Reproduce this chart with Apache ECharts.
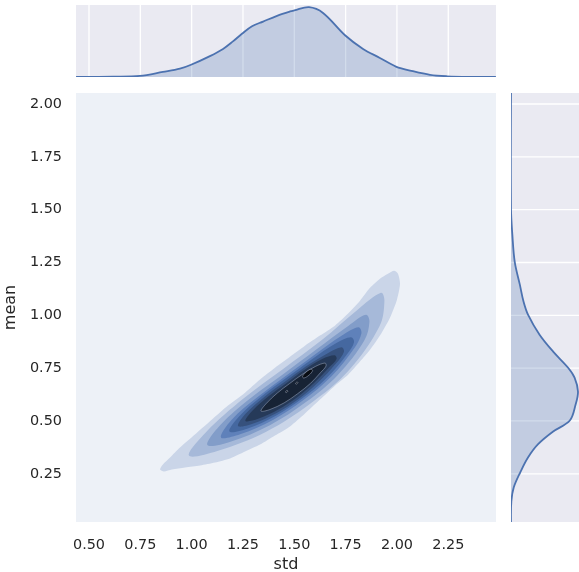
<!DOCTYPE html>
<html><head><meta charset="utf-8">
<script src="https://cdn.jsdelivr.net/npm/echarts@6/dist/echarts.min.js"></script>
<style>html,body{margin:0;padding:0;background:#fff}#c{width:579px;height:572px}</style>
</head><body><div id="c"></div>
<script>
// Tick labels
const stdTicks = [0.5, 0.75, 1.0, 1.25, 1.5, 1.75, 2.0, 2.25];
const meanTicks = [0.25, 0.5, 0.75, 1.0, 1.25, 1.5, 1.75, 2.0];

// Marginal KDE of std (top)
const stdGrid = [0.437, 0.617, 0.748, 0.860, 0.943, 0.997, 1.089, 1.153, 1.201, 1.245, 1.294, 1.348, 1.416, 1.479, 1.500, 1.572, 1.640, 1.747, 1.835, 1.917, 1.995, 2.078, 2.161, 2.244, 2.350, 2.482];
const stdDensity = [0.000, 0.010, 0.030, 0.140, 0.230, 0.340, 0.580, 0.780, 0.990, 1.200, 1.410, 1.540, 1.700, 1.820, 1.850, 1.940, 1.780, 1.160, 0.780, 0.530, 0.290, 0.160, 0.060, 0.020, 0.003, 0.000];

// Marginal KDE of mean (right)
const meanGrid = [2.052, 1.504, 1.381, 1.253, 1.145, 1.064, 1.003, 0.908, 0.828, 0.752, 0.705, 0.639, 0.578, 0.502, 0.450, 0.389, 0.327, 0.256, 0.185, 0.119, 0.022];
const meanDensity = [0.000, 0.000, 0.040, 0.110, 0.260, 0.370, 0.500, 0.840, 1.240, 1.680, 1.870, 1.970, 1.900, 1.730, 1.240, 0.790, 0.500, 0.270, 0.080, 0.010, 0.000];

// Joint KDE filled contour levels (outer -> inner), points are [std, mean]
const contour1 = [[0.846,0.270],[0.860,0.294],[0.895,0.327],[0.943,0.374],[1.016,0.436],[1.099,0.507],[1.177,0.573],[1.260,0.634],[1.333,0.696],[1.406,0.752],[1.479,0.804],[1.552,0.856],[1.625,0.904],[1.698,0.951],[1.762,1.008],[1.820,1.069],[1.869,1.130],[1.917,1.173],[1.956,1.197],[1.986,1.211],[2.005,1.197],[2.015,1.149],[2.000,1.074],[1.966,0.989],[1.917,0.904],[1.869,0.837],[1.820,0.781],[1.762,0.719],[1.698,0.667],[1.625,0.601],[1.552,0.535],[1.479,0.474],[1.406,0.431],[1.333,0.388],[1.260,0.355],[1.187,0.322],[1.114,0.303],[1.041,0.289],[0.968,0.280],[0.904,0.270],[0.865,0.261]];
const contour2 = [[0.987,0.336],[1.072,0.449],[1.254,0.607],[1.444,0.745],[1.634,0.883],[1.810,1.028],[1.922,1.107],[1.939,1.069],[1.915,0.948],[1.765,0.739],[1.574,0.579],[1.361,0.448],[1.125,0.358]];
const contour3 = [[1.077,0.386],[1.141,0.482],[1.291,0.611],[1.449,0.724],[1.607,0.838],[1.764,0.951],[1.849,1.003],[1.866,0.970],[1.841,0.881],[1.712,0.718],[1.555,0.588],[1.381,0.480],[1.189,0.402]];
const contour4 = [[1.143,0.422],[1.194,0.505],[1.323,0.614],[1.458,0.713],[1.594,0.810],[1.732,0.905],[1.813,0.944],[1.827,0.915],[1.793,0.845],[1.680,0.710],[1.546,0.600],[1.398,0.506],[1.236,0.437]];
const contour5 = [[1.184,0.450],[1.232,0.522],[1.344,0.619],[1.462,0.704],[1.581,0.789],[1.705,0.869],[1.776,0.896],[1.791,0.873],[1.756,0.815],[1.655,0.701],[1.538,0.606],[1.410,0.525],[1.270,0.463]];
const contour6 = [[1.226,0.476],[1.265,0.536],[1.358,0.617],[1.457,0.688],[1.556,0.758],[1.663,0.821],[1.730,0.849],[1.742,0.828],[1.705,0.774],[1.617,0.683],[1.521,0.604],[1.414,0.538],[1.297,0.487]];
const contour7 = [[1.262,0.500],[1.297,0.550],[1.376,0.618],[1.461,0.679],[1.545,0.739],[1.636,0.793],[1.696,0.811],[1.706,0.793],[1.670,0.754],[1.595,0.678],[1.513,0.611],[1.422,0.554],[1.324,0.510]];
const contour8 = [[1.338,0.547],[1.363,0.582],[1.417,0.632],[1.477,0.677],[1.543,0.723],[1.603,0.758],[1.650,0.774],[1.654,0.759],[1.628,0.729],[1.579,0.678],[1.515,0.628],[1.451,0.586],[1.381,0.554]];
const contour9 = [[1.540,0.710],[1.557,0.731],[1.581,0.745],[1.589,0.738],[1.572,0.717],[1.547,0.703]];
const contour9b = [[1.506,0.677],[1.513,0.685],[1.518,0.681],[1.510,0.674]];
const contour9c = [[1.457,0.637],[1.464,0.645],[1.469,0.641],[1.461,0.634]];

const contourColors = ['#cad5e8','#a6b9d9','#829dc9','#5f81ba','#4568a0','#36517d','#263a59','#172335','#080c12','#080c12','#080c12'];
const contourLevels = [contour1, contour2, contour3, contour4, contour5, contour6, contour7, contour8, contour9, contour9b, contour9c];

const X_MIN = 0.4367, X_MAX = 2.4825, Y_MIN = 0.0218, Y_MAX = 2.0521;
const TXT = '#262626';
const FONT = 'DejaVu Sans';

const chart = echarts.init(document.getElementById('c'), null, {renderer: 'canvas'});
const hidden = {show: false};

const option = {
  animation: false,
  backgroundColor: '#ffffff',
  grid: [
    {left: 76, top: 93, width: 420, height: 429, show: true, backgroundColor: '#edf1f7', borderWidth: 0, containLabel: false, outerBoundsMode: 'none'},
    {left: 76, top: 5, width: 420, height: 72, show: true, backgroundColor: '#eaeaf2', borderWidth: 0, containLabel: false, outerBoundsMode: 'none'},
    {left: 511, top: 93, width: 68, height: 429, show: true, backgroundColor: '#eaeaf2', borderWidth: 0, containLabel: false, outerBoundsMode: 'none'}
  ],
  xAxis: [
    {gridIndex: 0, type: 'value', min: X_MIN, max: X_MAX,
     axisLine: hidden, axisTick: {show: false}, splitLine: hidden,
     axisLabel: {customValues: stdTicks, formatter: v => v.toFixed(2), fontSize: 14.4, color: TXT, fontFamily: FONT, margin: 16},
     name: 'std', nameLocation: 'middle', nameGap: 32,
     nameTextStyle: {fontSize: 16, color: TXT, fontFamily: FONT}},
    {gridIndex: 1, type: 'value', min: X_MIN, max: X_MAX, show: false},
    {gridIndex: 2, type: 'value', min: 0, max: 2.0, show: false}
  ],
  yAxis: [
    {gridIndex: 0, type: 'value', min: Y_MIN, max: Y_MAX,
     axisLine: hidden, axisTick: {show: false}, splitLine: hidden,
     axisLabel: {customValues: meanTicks, formatter: v => v.toFixed(2), fontSize: 14.4, color: TXT, fontFamily: FONT, margin: 14},
     name: 'mean', nameLocation: 'middle', nameGap: 50,
     nameTextStyle: {fontSize: 16, color: TXT, fontFamily: FONT}},
    {gridIndex: 1, type: 'value', min: 0, max: 2.0, show: false},
    {gridIndex: 2, type: 'value', min: Y_MIN, max: Y_MAX, show: false}
  ],
  series: [
    // joint KDE contours
    {
      type: 'custom', xAxisIndex: 0, yAxisIndex: 0, clip: true, z: 2,
      data: contourLevels.map((c, i) => [c[0][0], c[0][1], i]),
      renderItem: function (params, api) {
        const i = params.dataIndex;
        const pts = contourLevels[i].map(p => api.coord(p));
        const inner = i >= 7;
        return {
          type: 'polygon',
          shape: {points: pts, smooth: i === 0 ? 0.25 : 0.35},
          style: {fill: contourColors[i], stroke: inner ? 'rgba(165,175,200,0.85)' : null, lineWidth: inner ? 0.6 : 0}
        };
      }
    },
    // top marginal grid lines
    {
      type: 'custom', xAxisIndex: 1, yAxisIndex: 1, clip: true, z: 1,
      data: stdTicks.map(v => [v, 0]),
      renderItem: function (params, api) {
        const p1 = api.coord([api.value(0), 0]);
        const p2 = api.coord([api.value(0), 2.0]);
        return {type: 'line', shape: {x1: p1[0], y1: p1[1], x2: p2[0], y2: p2[1]}, style: {stroke: '#ffffff', lineWidth: 1.3}};
      }
    },
    // top marginal KDE
    {
      type: 'custom', xAxisIndex: 1, yAxisIndex: 1, clip: true, z: 3,
      data: [[stdGrid[0], stdDensity[0]]],
      renderItem: function (params, api) {
        const pts = stdGrid.map((x, i) => api.coord([x, stdDensity[i]]));
        return {type: 'group', children: [
          {type: 'polygon', shape: {points: pts, smooth: 0.35}, style: {fill: 'rgba(76,114,176,0.25)'}},
          {type: 'polyline', shape: {points: pts, smooth: 0.35}, style: {stroke: '#4c72b0', lineWidth: 1.8, fill: null}}
        ]};
      }
    },
    // right marginal grid lines
    {
      type: 'custom', xAxisIndex: 2, yAxisIndex: 2, clip: true, z: 1,
      data: meanTicks.map(v => [0, v]),
      renderItem: function (params, api) {
        const p1 = api.coord([0, api.value(1)]);
        const p2 = api.coord([2.0, api.value(1)]);
        return {type: 'line', shape: {x1: p1[0], y1: p1[1], x2: p2[0], y2: p2[1]}, style: {stroke: '#ffffff', lineWidth: 1.3}};
      }
    },
    // right marginal KDE
    {
      type: 'custom', xAxisIndex: 2, yAxisIndex: 2, clip: true, z: 3,
      data: [[meanDensity[0], meanGrid[0]]],
      renderItem: function (params, api) {
        const pts = meanGrid.map((y, i) => api.coord([meanDensity[i], y]));
        return {type: 'group', children: [
          {type: 'polygon', shape: {points: pts, smooth: 0.35}, style: {fill: 'rgba(76,114,176,0.25)'}},
          {type: 'polyline', shape: {points: pts, smooth: 0.35}, style: {stroke: '#4c72b0', lineWidth: 1.8, fill: null}}
        ]};
      }
    }
  ]
};
chart.setOption(option);
</script>
</body></html>
